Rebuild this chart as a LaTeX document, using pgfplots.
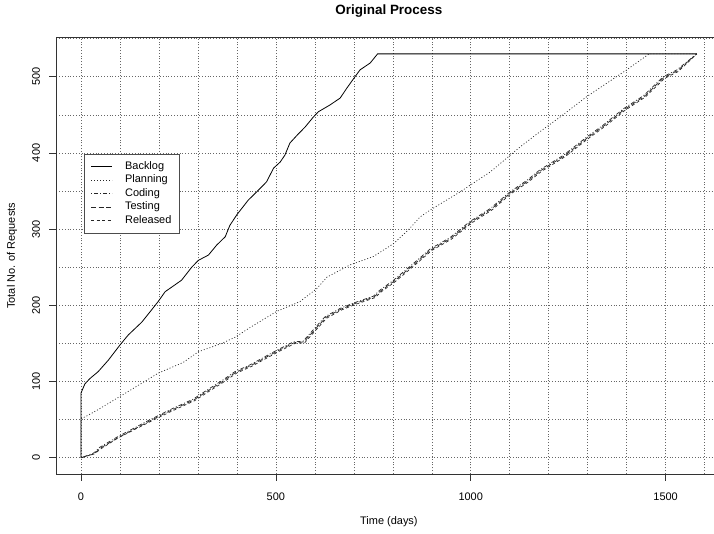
\documentclass[border=0pt]{standalone}
\usepackage{fontspec}
\setmainfont{Liberation Sans}
\usepackage{pgfplots}
\pgfplotsset{compat=1.18}

\begin{document}
\begin{tikzpicture}
\begin{axis}[
  at={(56.4bp,60.1bp)}, anchor=south west,
  scale only axis, width=665bp, height=436.2bp,
  xmin=-63.2, xmax=1643.2, ymin=-21.2, ymax=551.2,
  xtick={0,500,1000,1500}, ytick={0,100,...,500},
  minor xtick={100,200,...,1600}, minor ytick={50,150,...,550},
  grid=both,
  major grid style={black!60, dash pattern=on 1bp off 1.8bp, line width=0.5bp},
  minor grid style={black!60, dash pattern=on 1bp off 1.8bp, line width=0.5bp},
  xtick pos=bottom, ytick pos=left,
  tick align=outside, major tick length=7bp, minor tick length=0bp,
  tick style={black!80, line width=0.6bp},
  axis line style={black!80, line width=0.6bp},
  /pgf/number format/assume math mode=true,
  /pgf/number format/1000 sep={},
  ticklabel style={font=\fontsize{11}{13}\selectfont},
  xticklabel style={yshift=-8bp},
  yticklabel style={rotate=90, anchor=south, yshift=6bp},
  xlabel={Time (days)}, ylabel={Total No. of Requests},
  label style={font=\fontsize{11}{13}\selectfont},
  xlabel style={at={(axis description cs:0.5,0)}, anchor=center, yshift=-48bp},
  ylabel style={at={(axis description cs:0,0.5)}, anchor=center, yshift=44.4bp},
  title={Original Process},
  title style={at={(axis description cs:0.5,1)}, anchor=center, yshift=20.7bp,
    font=\bfseries\fontsize{13.5}{15}\selectfont},
  legend style={at={(axis cs:7.7,398.5)}, anchor=north west, draw=black!70,
    line width=0.6bp, fill=white, font=\fontsize{11}{13}\selectfont,
    inner xsep=6.5bp, inner ysep=5.5bp, row sep=0bp,
    nodes={inner sep=1.5bp, text height=8bp, text depth=2.5bp},
    cells={anchor=west},
    /tikz/every odd column/.append style={column sep=11bp}},
  legend image code/.code={\draw[#1] (0bp,0bp) -- (21bp,0bp);},
]
% Backlog
\addplot[black, line width=0.8bp] coordinates {
  (0,0) (0,85) (10,97) (23,104) (44,113) (70,128) (100,148) (121,161)
  (156,178) (181,194) (198,205) (216,218) (233,224) (258,233) (284,250)
  (301,259) (327,266) (348,279) (370,290) (382,305) (400,319) (429,338)
  (451,349) (476,362) (494,380) (511,388) (523,397) (536,413) (554,423)
  (575,434) (596,447) (609,454) (639,463) (665,472) (682,485) (703,500)
  (716,509) (742,518) (761,530) (1580,530)
};
\addlegendentry{Backlog}
% Planning
\addplot[black!85, line width=0.7bp, dash pattern=on 1bp off 2bp] coordinates {
  (0,0) (0,51) (15,55) (40,62) (92,78) (134,91) (198,111) (262,125)
  (301,139) (361,150) (395,158) (434,171) (502,192) (562,205) (605,222)
  (631,237) (690,253) (750,264) (802,281) (840,299) (870,316) (896,325)
  (973,349) (1050,375) (1127,408) (1178,428) (1229,447) (1298,474)
  (1400,509) (1458,530) (1580,530)
};
\addlegendentry{Planning}
% Coding
\addplot[black!85, line width=0.7bp, dash pattern=on 1bp off 2bp on 4bp off 2bp] coordinates {
  (0,0) (32,6) (49,14) (92,27) (177,50) (224,62) (288,77) (327,90)
  (361,101) (395,113) (434,122) (502,141) (545,152) (570,153) (596,168)
  (626,185) (665,196) (699,203) (750,212) (767,220) (802,233) (853,255)
  (896,274) (947,289) (998,310) (1050,327) (1101,349) (1144,364)
  (1178,378) (1238,397) (1298,421) (1341,437) (1392,458) (1443,475)
  (1494,500) (1529,509) (1580,530)
};
\addlegendentry{Coding}
% Testing
\addplot[black!85, line width=0.7bp, dash pattern=on 5bp off 2.5bp] coordinates {
  (0,0) (33,5) (51,13) (94,26) (179,49) (226,61) (290,76) (329,89)
  (363,100) (397,112) (436,121) (504,140) (547,151) (572,152) (598,167)
  (628,184) (667,195) (701,202) (752,211) (769,219) (804,232) (855,254)
  (898,273) (949,288) (1000,309) (1052,326) (1103,348) (1146,363)
  (1180,377) (1240,396) (1300,420) (1343,436) (1394,457) (1445,474)
  (1496,499) (1531,508) (1580,530)
};
\addlegendentry{Testing}
% Released
\addplot[black!85, line width=0.7bp, dash pattern=on 3bp off 2.5bp] coordinates {
  (0,0) (34,5) (52,12) (95,26) (180,48) (228,60) (292,75) (331,88)
  (365,99) (399,111) (438,120) (506,139) (549,150) (574,151) (600,166)
  (630,183) (669,194) (703,201) (754,210) (771,218) (806,231) (857,253)
  (900,272) (951,287) (1002,308) (1054,325) (1105,347) (1148,362)
  (1182,376) (1242,395) (1302,419) (1345,435) (1396,456) (1447,473)
  (1498,498) (1533,507) (1580,530)
};
\addlegendentry{Released}
\end{axis}
\pgfresetboundingbox
\useasboundingbox (0,0) rectangle (714bp,534bp);
\end{tikzpicture}
\end{document}
